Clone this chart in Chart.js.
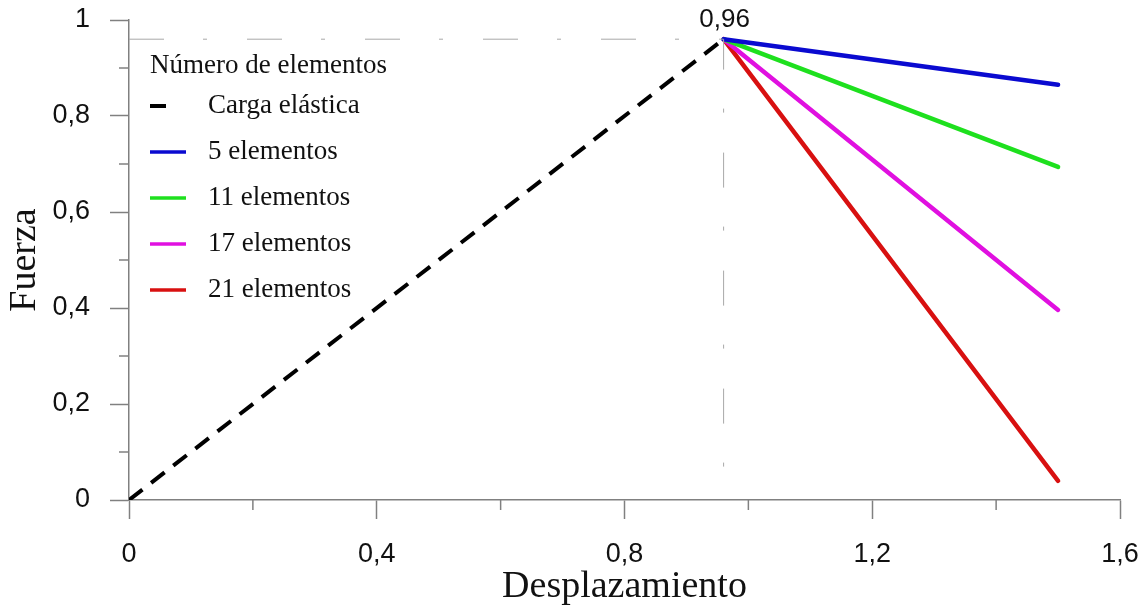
<!DOCTYPE html>
<html>
<head>
<meta charset="utf-8">
<script src="https://cdn.jsdelivr.net/npm/chart.js@4"></script>
<style>
    body { margin: 0; background: #fff; }
    #wrap { width: 1146px; height: 610px; }
</style>
</head>
<body>
<div id="wrap"><canvas id="forceChart" width="1146" height="610"></canvas></div>
<script>
// valores
const elasticX = [0, 0.96];
const elasticY = [0, 0.96];
const softX = [0.96, 1.5];
const blueY = [0.96, 0.865];
const greenY = [0.96, 0.694];
const magentaY = [0.96, 0.396];
const redY = [0.96, 0.04];
const refX = [0, 0.96, 0.96];
const refY = [0.96, 0.96, 0];
const peakLabel = '0,96';
const xMinorTicks = [0.2, 0.6, 1.0, 1.4];
const yMinorTicks = [0.1, 0.3, 0.5, 0.7, 0.9];
const legendTitle = 'Número de elementos';
const legendLabels = ['Carga elástica', '5 elementos', '11 elementos', '17 elementos', '21 elementos'];
const seriesColors = ['#000000', '#0a0ad0', '#1ee01e', '#e010e0', '#d81010'];

const toPoints = (xs, ys) => xs.map((x, i) => ({ x: x, y: ys[i] }));
const fmt = v => String(Math.round(v * 10) / 10).replace('.', ',');
const axisColor = '#808080';
const sansFont = '"Liberation Sans", Arial, sans-serif';
const serifFont = '"Liberation Serif", "Times New Roman", serif';

// sin margen extra por las etiquetas de los extremos
const noEdgePadding = scale => {
    scale.paddingTop = 0;
    scale.paddingBottom = 0;
    scale.paddingLeft = 0;
    scale.paddingRight = 0;
};

// ticks secundarios, etiqueta del pico y leyenda
const extras = {
    id: 'extras',
    afterDraw(chart) {
        const { ctx, scales: { x, y } } = chart;
        ctx.save();
        ctx.strokeStyle = axisColor;
        ctx.lineWidth = 1.5;
        xMinorTicks.forEach(v => {
            const px = x.getPixelForValue(v);
            ctx.beginPath();
            ctx.moveTo(px, y.bottom);
            ctx.lineTo(px, y.bottom + 10);
            ctx.stroke();
        });
        yMinorTicks.forEach(v => {
            const py = y.getPixelForValue(v);
            ctx.beginPath();
            ctx.moveTo(x.left - 10, py);
            ctx.lineTo(x.left, py);
            ctx.stroke();
        });

        ctx.fillStyle = '#111';
        ctx.font = '26px ' + sansFont;
        ctx.textAlign = 'center';
        ctx.textBaseline = 'middle';
        ctx.fillText(peakLabel, x.getPixelForValue(elasticX[1]) + 1, y.getPixelForValue(elasticY[1]) - 19);

        ctx.font = '27px ' + serifFont;
        ctx.textAlign = 'left';
        ctx.fillText(legendTitle, 150, 66);
        legendLabels.forEach((label, i) => {
            const cy = 106 + i * 46;
            ctx.strokeStyle = seriesColors[i];
            ctx.lineWidth = i === 0 ? 4 : 3.5;
            ctx.beginPath();
            ctx.moveTo(150, cy);
            ctx.lineTo(i === 0 ? 166 : 186, cy);
            ctx.stroke();
            ctx.fillText(label, 208, cy);
        });
        ctx.restore();
    }
};

const lineSet = (label, xs, ys, color, extra) => Object.assign({
    label: label,
    data: toPoints(xs, ys),
    borderColor: color,
    borderWidth: 4.5,
    pointRadius: 0,
    borderCapStyle: 'round',
    tension: 0
}, extra || {});

new Chart(document.getElementById('forceChart').getContext('2d'), {
    type: 'line',
    data: {
        datasets: [
            lineSet('ref', refX, refY, '#a8a8a8', { borderWidth: 1, borderDash: [35, 39, 4, 40], borderCapStyle: 'butt' }),
            lineSet(legendLabels[0], elasticX, elasticY, seriesColors[0], { borderWidth: 4, borderDash: [17, 11], borderCapStyle: 'butt' }),
            lineSet(legendLabels[1], softX, blueY, seriesColors[1]),
            lineSet(legendLabels[2], softX, greenY, seriesColors[2]),
            lineSet(legendLabels[3], softX, magentaY, seriesColors[3]),
            lineSet(legendLabels[4], softX, redY, seriesColors[4])
        ]
    },
    options: {
        responsive: false,
        animation: false,
        layout: { padding: { top: 20, right: 26, left: 0, bottom: 0 } },
        plugins: {
            legend: { display: false },
            tooltip: { enabled: false }
        },
        scales: {
            x: {
                type: 'linear',
                min: 0,
                max: 1.6,
                afterFit: scale => { scale.height = 110; noEdgePadding(scale); },
                border: { display: true, color: axisColor, width: 1.5 },
                grid: {
                    drawOnChartArea: false,
                    tickLength: 19,
                    tickWidth: 1.5,
                    tickColor: c => (c.tick && Math.round(c.tick.value * 10) % 4 === 0) ? axisColor : 'rgba(0,0,0,0)'
                },
                ticks: {
                    stepSize: 0.2,
                    padding: 19,
                    color: '#111',
                    font: { family: sansFont, size: 27 },
                    maxRotation: 0,
                    autoSkip: false,
                    callback: v => Math.round(v * 10) % 4 === 0 ? fmt(v) : ''
                },
                title: {
                    display: true,
                    text: 'Desplazamiento',
                    color: '#111',
                    font: { family: serifFont, size: 38 },
                    padding: { top: 0, bottom: 0 }
                }
            },
            y: {
                type: 'linear',
                min: 0,
                max: 1,
                afterFit: scale => { scale.width = 129; noEdgePadding(scale); },
                border: { display: true, color: axisColor, width: 1.5 },
                grid: {
                    drawOnChartArea: false,
                    tickLength: 19,
                    tickWidth: 1.5,
                    tickColor: c => (c.tick && Math.round(c.tick.value * 10) % 2 === 0) ? axisColor : 'rgba(0,0,0,0)'
                },
                ticks: {
                    stepSize: 0.1,
                    padding: 20,
                    color: '#111',
                    font: { family: sansFont, size: 27 },
                    autoSkip: false,
                    callback: v => Math.round(v * 10) % 2 === 0 ? fmt(v) : ''
                },
                title: {
                    display: true,
                    text: 'Fuerza',
                    color: '#111',
                    font: { family: serifFont, size: 38 },
                    padding: { top: 2, bottom: 0 }
                }
            }
        }
    },
    plugins: [extras]
});
</script>
</body>
</html>
